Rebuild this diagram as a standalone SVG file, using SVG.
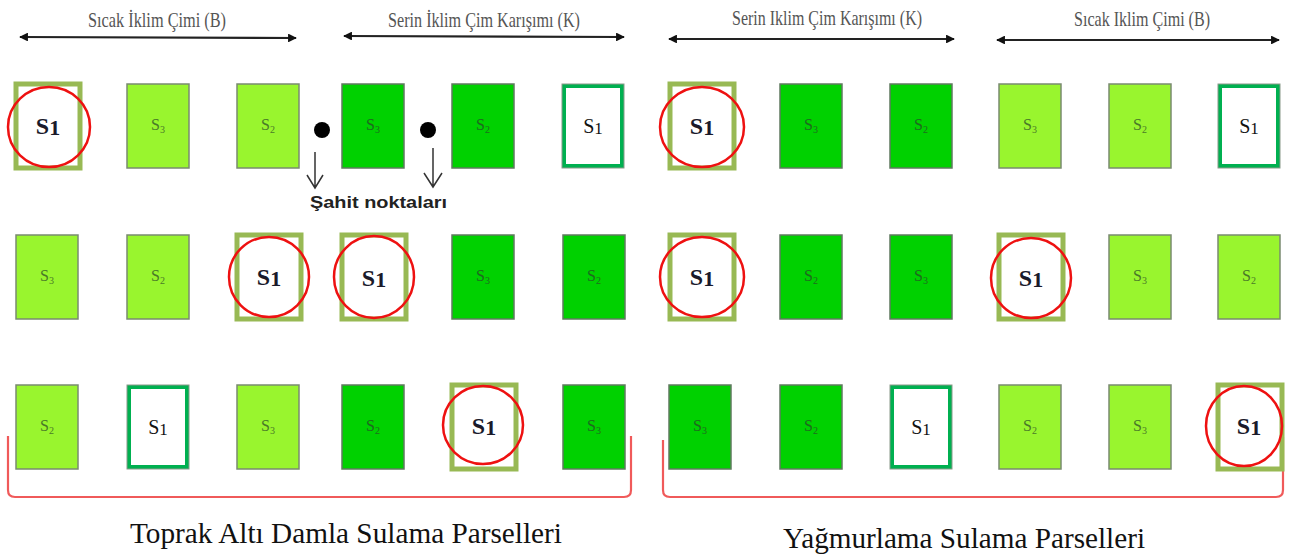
<svg xmlns="http://www.w3.org/2000/svg" width="1294" height="557" viewBox="0 0 1294 557">
<style>
.lg{fill:#99f52e;stroke:#7a8a70;stroke-width:1.5}
.dg{fill:#00d100;stroke:#5f7a5f;stroke-width:1.5}
.wb{fill:#fff;stroke:#00b050;stroke-width:4}
.wbo{fill:none;stroke:#8a9a8a;stroke-width:1}
.hb{fill:#fff;stroke:#98b954;stroke-width:5}
.ring{fill:none;stroke:#ee1111;stroke-width:2.5}
.sl{font-family:"Liberation Serif",serif;font-size:16px;fill:#4a7a28;text-anchor:middle}
.sld{font-family:"Liberation Serif",serif;font-size:16px;fill:#1f6a1f;text-anchor:middle}
.sub{font-size:10px}
.s1{font-family:"Liberation Serif",serif;font-size:20px;fill:#111;text-anchor:middle}
.s1b{font-family:"Liberation Serif",serif;font-size:24px;font-weight:bold;fill:#1a1a2a;text-anchor:middle}
.hd{font-family:"Liberation Serif",serif;font-size:21px;fill:#555;text-anchor:middle}
.ft{font-family:"Liberation Serif",serif;font-size:29px;fill:#111;text-anchor:middle}
.ax{stroke:#222;stroke-width:2.2;fill:none}
.br{fill:none;stroke:#f05a5a;stroke-width:2.2}
.wit{font-family:"Liberation Sans",sans-serif;font-size:17px;font-weight:bold;fill:#222}
</style>
<defs>
<marker id="ah" viewBox="0 0 10 10" refX="9" refY="5" markerWidth="4" markerHeight="4" orient="auto-start-reverse">
<path d="M0,0 L10,5 L0,10 z" fill="#111"/>
</marker>
</defs>

<g id="headings">
<text class="hd" x="157" y="27" textLength="138" lengthAdjust="spacingAndGlyphs">Sıcak İklim Çimi (B)</text>
<text class="hd" x="484" y="27" textLength="192" lengthAdjust="spacingAndGlyphs">Serin İklim Çim Karışımı (K)</text>
<text class="hd" x="827" y="25" textLength="190" lengthAdjust="spacingAndGlyphs">Serin Iklim Çim Karışımı (K)</text>
<text class="hd" x="1142" y="26" textLength="136" lengthAdjust="spacingAndGlyphs">Sıcak Iklim Çimi (B)</text>
</g>

<g id="connectors">
<line class="ax" x1="20" y1="37" x2="296" y2="38" marker-start="url(#ah)" marker-end="url(#ah)"/>
<line class="ax" x1="344" y1="36" x2="624" y2="37" marker-start="url(#ah)" marker-end="url(#ah)"/>
<line class="ax" x1="669" y1="39" x2="954" y2="39" marker-start="url(#ah)" marker-end="url(#ah)"/>
<line class="ax" x1="997" y1="40" x2="1279" y2="40" marker-start="url(#ah)" marker-end="url(#ah)"/>
<path d="M315,152 V188 M307,175 L315,188 L323,175" fill="none" stroke="#333" stroke-width="1.5"/>
<path d="M433,148 V187 M424,173 L433,187 L442,173" fill="none" stroke="#333" stroke-width="1.5"/>
<path class="br" d="M8,436 V490 Q8,497 15,497 H624 Q631,497 631,490 V436"/>
<path class="br" d="M663,440 V490 Q663,497 670,497 H1276 Q1283,497 1283,490 V437"/>
</g>

<g id="witness">
<circle cx="322" cy="130" r="8" fill="#000"/>
<circle cx="428" cy="130" r="8" fill="#000"/>
<text class="wit" x="310" y="208" textLength="137" lengthAdjust="spacingAndGlyphs">Şahit noktaları</text>
</g>

<!-- Row 1 -->
<g id="r1c1"><rect class="hb" x="16" y="84" width="64" height="84"/><text class="s1b" x="48" y="134">S<tspan font-size="22" dy="1">1</tspan></text><ellipse class="ring" cx="49" cy="127" rx="41" ry="40"/></g>
<g id="r1c2"><rect class="lg" x="127" y="84" width="62" height="84"/><text class="sl" x="158" y="130">S<tspan class="sub" dy="3">3</tspan></text></g>
<g id="r1c3"><rect class="lg" x="237" y="84" width="62" height="84"/><text class="sl" x="268" y="130">S<tspan class="sub" dy="3">2</tspan></text></g>
<g id="r1c4"><rect class="dg" x="342" y="84" width="62" height="84"/><text class="sld" x="373" y="130">S<tspan class="sub" dy="3">3</tspan></text></g>
<g id="r1c5"><rect class="dg" x="452" y="84" width="62" height="84"/><text class="sld" x="483" y="130">S<tspan class="sub" dy="3">2</tspan></text></g>
<g id="r1c6"><rect class="wb" x="564" y="86" width="58" height="80"/><rect class="wbo" x="562" y="84" width="62" height="84"/><text class="s1" x="593" y="133">S<tspan font-size="17" dy="1">1</tspan></text></g>
<g id="r1c7"><rect class="hb" x="670" y="84" width="64" height="84"/><text class="s1b" x="702" y="134">S<tspan font-size="22" dy="1">1</tspan></text><ellipse class="ring" cx="702" cy="127" rx="42" ry="40"/></g>
<g id="r1c8"><rect class="dg" x="780" y="84" width="62" height="84"/><text class="sld" x="811" y="130">S<tspan class="sub" dy="3">3</tspan></text></g>
<g id="r1c9"><rect class="dg" x="890" y="84" width="62" height="84"/><text class="sld" x="921" y="130">S<tspan class="sub" dy="3">2</tspan></text></g>
<g id="r1c10"><rect class="lg" x="999" y="84" width="62" height="84"/><text class="sl" x="1030" y="130">S<tspan class="sub" dy="3">3</tspan></text></g>
<g id="r1c11"><rect class="lg" x="1109" y="84" width="62" height="84"/><text class="sl" x="1140" y="130">S<tspan class="sub" dy="3">2</tspan></text></g>
<g id="r1c12"><rect class="wb" x="1220" y="86" width="58" height="80"/><rect class="wbo" x="1218" y="84" width="62" height="84"/><text class="s1" x="1249" y="133">S<tspan font-size="17" dy="1">1</tspan></text></g>

<!-- Row 2 -->
<g id="r2c1"><rect class="lg" x="16" y="235" width="62" height="84"/><text class="sl" x="47" y="281">S<tspan class="sub" dy="3">3</tspan></text></g>
<g id="r2c2"><rect class="lg" x="127" y="235" width="62" height="84"/><text class="sl" x="158" y="281">S<tspan class="sub" dy="3">2</tspan></text></g>
<g id="r2c3"><rect class="hb" x="237" y="235" width="64" height="84"/><text class="s1b" x="269" y="285">S<tspan font-size="22" dy="1">1</tspan></text><ellipse class="ring" cx="269" cy="277" rx="40" ry="40"/></g>
<g id="r2c4"><rect class="hb" x="342" y="235" width="64" height="84"/><text class="s1b" x="374" y="286">S<tspan font-size="22" dy="1">1</tspan></text><ellipse class="ring" cx="374" cy="277" rx="40" ry="41"/></g>
<g id="r2c5"><rect class="dg" x="452" y="235" width="62" height="84"/><text class="sld" x="483" y="281">S<tspan class="sub" dy="3">3</tspan></text></g>
<g id="r2c6"><rect class="dg" x="563" y="235" width="62" height="84"/><text class="sld" x="594" y="281">S<tspan class="sub" dy="3">2</tspan></text></g>
<g id="r2c7"><rect class="hb" x="670" y="235" width="64" height="84"/><text class="s1b" x="702" y="285">S<tspan font-size="22" dy="1">1</tspan></text><ellipse class="ring" cx="702" cy="277" rx="42" ry="40"/></g>
<g id="r2c8"><rect class="dg" x="780" y="235" width="62" height="84"/><text class="sld" x="811" y="281">S<tspan class="sub" dy="3">2</tspan></text></g>
<g id="r2c9"><rect class="dg" x="890" y="235" width="62" height="84"/><text class="sld" x="921" y="281">S<tspan class="sub" dy="3">3</tspan></text></g>
<g id="r2c10"><rect class="hb" x="999" y="235" width="64" height="84"/><text class="s1b" x="1031" y="286">S<tspan font-size="22" dy="1">1</tspan></text><ellipse class="ring" cx="1031" cy="278" rx="40" ry="40"/></g>
<g id="r2c11"><rect class="lg" x="1109" y="235" width="62" height="84"/><text class="sl" x="1140" y="281">S<tspan class="sub" dy="3">3</tspan></text></g>
<g id="r2c12"><rect class="lg" x="1218" y="235" width="62" height="84"/><text class="sl" x="1249" y="281">S<tspan class="sub" dy="3">2</tspan></text></g>

<!-- Row 3 -->
<g id="r3c1"><rect class="lg" x="16" y="385" width="62" height="84"/><text class="sl" x="47" y="431">S<tspan class="sub" dy="3">2</tspan></text></g>
<g id="r3c2"><rect class="wb" x="129" y="387" width="58" height="80"/><rect class="wbo" x="127" y="385" width="62" height="84"/><text class="s1" x="158" y="434">S<tspan font-size="17" dy="1">1</tspan></text></g>
<g id="r3c3"><rect class="lg" x="237" y="385" width="62" height="84"/><text class="sl" x="268" y="431">S<tspan class="sub" dy="3">3</tspan></text></g>
<g id="r3c4"><rect class="dg" x="342" y="385" width="62" height="84"/><text class="sld" x="373" y="431">S<tspan class="sub" dy="3">2</tspan></text></g>
<g id="r3c5"><rect class="hb" x="452" y="385" width="64" height="84"/><text class="s1b" x="484" y="434">S<tspan font-size="22" dy="1">1</tspan></text><ellipse class="ring" cx="483" cy="425" rx="40" ry="39"/></g>
<g id="r3c6"><rect class="dg" x="563" y="385" width="62" height="84"/><text class="sld" x="594" y="431">S<tspan class="sub" dy="3">3</tspan></text></g>
<g id="r3c7"><rect class="dg" x="669" y="385" width="62" height="84"/><text class="sld" x="700" y="431">S<tspan class="sub" dy="3">3</tspan></text></g>
<g id="r3c8"><rect class="dg" x="780" y="385" width="62" height="84"/><text class="sld" x="811" y="431">S<tspan class="sub" dy="3">2</tspan></text></g>
<g id="r3c9"><rect class="wb" x="892" y="387" width="58" height="80"/><rect class="wbo" x="890" y="385" width="62" height="84"/><text class="s1" x="921" y="434">S<tspan font-size="17" dy="1">1</tspan></text></g>
<g id="r3c10"><rect class="lg" x="999" y="385" width="62" height="84"/><text class="sl" x="1030" y="431">S<tspan class="sub" dy="3">2</tspan></text></g>
<g id="r3c11"><rect class="lg" x="1109" y="385" width="62" height="84"/><text class="sl" x="1140" y="431">S<tspan class="sub" dy="3">3</tspan></text></g>
<g id="r3c12"><rect class="hb" x="1218" y="385" width="64" height="84"/><text class="s1b" x="1249" y="434">S<tspan font-size="22" dy="1">1</tspan></text><ellipse class="ring" cx="1244" cy="426" rx="38" ry="40"/></g>

<g id="footers">
<text class="ft" x="346" y="543" textLength="432" lengthAdjust="spacingAndGlyphs">Toprak Altı Damla Sulama Parselleri</text>
<text class="ft" x="964" y="548" textLength="362" lengthAdjust="spacingAndGlyphs">Yağmurlama Sulama Parselleri</text>
</g>
</svg>
